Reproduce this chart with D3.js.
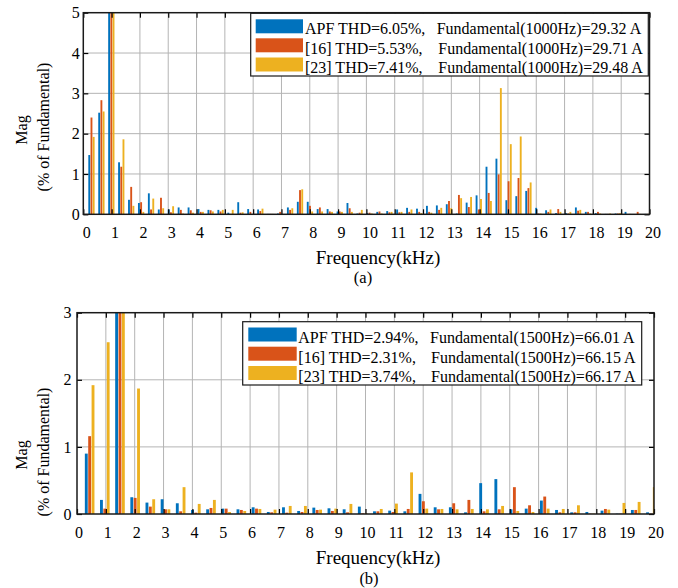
<!DOCTYPE html>
<html><head><meta charset="utf-8">
<script src="https://cdn.jsdelivr.net/npm/d3@7"></script>
<style>
body{margin:0;background:#fff}
svg{display:block}
text{font-family:"Liberation Serif","Times New Roman",serif;fill:#000}
</style>
</head><body>
<svg id="chart" width="678" height="588"></svg>
<script>
// ---------------- data ----------------
const seriesNames = ["APF", "[16]", "[23]"];
const seriesColors = ["#0072BD", "#D95319", "#EDB120"];
const xTickValues = d3.range(0, 21);
const yTicksA = [0, 1, 2, 3, 4, 5];
const yTicksB = [0, 1, 2, 3];

// panel (a): harmonic order in units of f0/3, f0 = 1000 Hz
const orderA = d3.range(1, 58);
const apfA = [1.47,2.52,100,1.29,0.36,0.28,0.52,0.12,0.12,0.17,0.17,0.13,0.11,0.11,0.04,0.30,0.13,0.12,0.01,0.02,
  0.17,0.31,0.31,0.13,0.13,0.07,0.28,0.02,0.03,0.06,0.08,0.12,0.16,0.14,0.21,0.22,0.25,0.02,0.29,0.47,
  1.18,1.38,0.35,0.45,0.58,0.16,0.10,0.03,0.03,0.17,0.06,0.03,0.01,0.02,0.06,0.00,0.01];
const ref16A = [2.40,2.83,100,1.18,0.68,0.30,0.12,0.41,0.05,0.11,0.10,0.06,0.10,0.07,0.01,0.04,0.06,0.08,0.01,0.06,
  0.11,0.60,0.21,0.17,0.07,0.07,0.15,0.04,0.04,0.07,0.05,0.05,0.06,0.06,0.06,0.11,0.33,0.48,0.18,0.12,
  0.53,0.99,0.82,0.90,0.65,0.02,0.06,0.13,0.02,0.09,0.06,0.06,0.01,0.02,0.00,0.06,0.01];
const ref23A = [1.92,2.55,100,1.86,0.21,0.06,0.39,0.15,0.20,0.02,0.04,0.06,0.07,0.11,0.11,0.05,0.01,0.14,0.01,0.01,
  0.15,0.62,0.07,0.07,0.06,0.06,0.06,0.11,0.02,0.02,0.06,0.06,0.12,0.03,0.04,0.16,0.15,0.40,0.43,0.38,
  0.33,3.13,1.74,1.93,0.79,0.02,0.12,0.06,0.06,0.11,0.02,0.02,0.02,0.03,0.01,0.01,0.04];
const legendA = ["APF THD=6.05%,", "[16] THD=5.53%,", "[23] THD=7.41%,"];
const fundA = ["Fundamental(1000Hz)=29.32 A", "Fundamental(1000Hz)=29.71 A", "Fundamental(1000Hz)=29.48 A"];

// panel (b): harmonic order in units of f0/3, f0 = 1500 Hz
const orderB = d3.range(1, 39);
const apfB = [0.90,0.21,100,0.25,0.17,0.22,0.16,0.06,0.07,0.08,0.07,0.10,0.03,0.10,0.045,0.095,0.085,0.07,0.11,0.04,
  0.05,0.04,0.30,0.10,0.10,0.025,0.46,0.52,0.07,0.08,0.20,0.06,0.025,0.03,0.05,0.005,0.06,0.025];
const ref16B = [1.16,0.08,100,0.24,0.11,0.07,0.04,0.02,0.09,0.08,0.06,0.08,0.025,0.02,0.03,0.06,0.045,0.025,0.01,0.04,
  0.03,0.075,0.19,0.07,0.16,0.21,0.04,0.07,0.40,0.13,0.26,0.025,0.025,0.005,0.075,0.005,0.06,0.005];
const ref23B = [1.92,2.56,100,1.87,0.22,0.07,0.40,0.15,0.21,0.03,0.045,0.075,0.065,0.12,0.12,0.065,0.08,0.15,0.01,0.075,
  0.155,0.62,0.08,0.075,0.07,0.075,0.07,0.12,0.045,0.03,0.08,0.075,0.13,0.005,0.065,0.165,0.18,0.40];
const legendB = ["APF THD=2.94%,", "[16] THD=2.31%,", "[23] THD=3.74%,"];
const fundB = ["Fundamental(1500Hz)=66.01 A", "Fundamental(1500Hz)=66.15 A", "Fundamental(1500Hz)=66.17 A"];

// ---------------- drawing ----------------
const svg = d3.select("#chart");
const FS = 16;

function styleAxis(sel) {
  sel.attr("font-size", FS).attr("font-family", null);
  sel.select(".domain").remove();
  sel.selectAll(".tick line").attr("stroke", "#000").attr("stroke-width", 1.2);
}

function panel(cfg) {
  const g = svg.append("g");
  const xs = d3.scaleLinear().domain([0, 20]).range([cfg.left, cfg.right]);
  const ys = d3.scaleLinear().domain([0, cfg.ymax]).range([cfg.bottom, cfg.top]);
  const clipId = "clip" + cfg.id;
  svg.append("clipPath").attr("id", clipId).append("rect")
    .attr("x", cfg.left).attr("y", cfg.top)
    .attr("width", cfg.right - cfg.left).attr("height", cfg.bottom - cfg.top);

  // grid
  const grid = g.append("g").attr("stroke", "#b4b4b4").attr("stroke-width", 1);
  grid.selectAll("line.vx").data(xTickValues.slice(1, -1)).join("line")
    .attr("x1", d => xs(d)).attr("x2", d => xs(d)).attr("y1", cfg.top).attr("y2", cfg.bottom);
  grid.selectAll("line.hy").data(cfg.yTicks.slice(1, -1)).join("line")
    .attr("y1", d => ys(d)).attr("y2", d => ys(d)).attr("x1", cfg.left).attr("x2", cfg.right);

  // bars
  const groupW = 3 / (3 + 1.5);
  const slot = cfg.step * groupW / 3;
  const bw = slot * 0.85;
  const bars = g.append("g").attr("clip-path", `url(#${clipId})`);
  cfg.series.forEach((vals, i) => {
    bars.append("g").attr("fill", seriesColors[i])
      .selectAll("rect").data(vals).join("rect")
      .attr("x", (d, j) => xs(cfg.freq[j] + (i - 1) * slot - bw / 2))
      .attr("width", (d, j) => xs(cfg.freq[j] + bw / 2) - xs(cfg.freq[j] - bw / 2))
      .attr("y", d => ys(Math.min(d, cfg.ymax * 1.2)))
      .attr("height", d => ys(0) - ys(Math.min(d, cfg.ymax * 1.2)));
  });

  // axes (inward ticks)
  const ax = g.append("g");
  const bottom = ax.append("g").attr("transform", `translate(0,${cfg.bottom})`)
    .call(d3.axisBottom(xs).tickValues(xTickValues).tickSize(-5).tickPadding(12.5).tickFormat(d3.format("d")))
    .call(styleAxis);
  bottom.selectAll("text").attr("dx", cfg.xdx);
  ax.append("g").attr("transform", `translate(0,${cfg.top})`)
    .call(d3.axisTop(xs).tickValues(xTickValues).tickSize(-5).tickFormat(""))
    .call(styleAxis);
  ax.append("g").attr("transform", `translate(${cfg.left},0)`)
    .call(d3.axisLeft(ys).tickValues(cfg.yTicks).tickSize(-5).tickPadding(cfg.ypad).tickFormat(d3.format("d")))
    .call(styleAxis);
  ax.append("g").attr("transform", `translate(${cfg.right},0)`)
    .call(d3.axisRight(ys).tickValues(cfg.yTicks).tickSize(-5).tickFormat(""))
    .call(styleAxis);
  g.append("rect").attr("x", cfg.left).attr("y", cfg.top)
    .attr("width", cfg.right - cfg.left).attr("height", cfg.bottom - cfg.top)
    .attr("fill", "none").attr("stroke", "#1a1a1a").attr("stroke-width", 1.5);

  // legend
  const L = cfg.legend;
  const lg = g.append("g");
  lg.append("rect").attr("x", L.x).attr("y", L.y).attr("width", L.w).attr("height", L.h)
    .attr("fill", "#fff").attr("stroke", "#1a1a1a").attr("stroke-width", 1.2);
  seriesNames.forEach((name, i) => {
    const cy = L.rowY[i];
    lg.append("rect").attr("x", L.sx).attr("y", cy - 7).attr("width", L.sw).attr("height", 14)
      .attr("fill", seriesColors[i]);
    const t = lg.append("text").attr("x", L.tx).attr("y", L.base[i]).attr("font-size", L.fs);
    t.append("tspan").text(L.labels[i] + " ");
    t.append("tspan").attr("x", L.fx[i]).text(L.fund[i]);
  });

  // axis titles
  g.append("text").attr("transform", `translate(${cfg.magX},${cfg.titleY}) rotate(-90)`)
    .attr("text-anchor", "middle").attr("font-size", FS).text("Mag");
  g.append("text").attr("transform", `translate(${cfg.magX + 21.5},${cfg.titleY - 3}) rotate(-90)`)
    .attr("text-anchor", "middle").attr("font-size", FS).text("(% of Fundamental)");
  g.append("text").attr("x", 378).attr("y", cfg.xlabBase).attr("text-anchor", "middle")
    .attr("font-size", 19).text("Frequency(kHz)");
  g.append("text").attr("x", cfg.capX).attr("y", cfg.capBase).attr("text-anchor", "middle")
    .attr("font-size", 16.5).text(cfg.caption);
}

panel({
  id: "A", left: 83.3, right: 649.5, top: 12.7, bottom: 214.3, ymax: 5, yTicks: yTicksA,
  freq: orderA.map(h => 0.99 + (h - 3) * 0.3508), step: 0.3508,
  series: [apfA, ref16A, ref23A], xdx: 3, ypad: 3.5,
  legend: { x: 250.7, y: 13.3, w: 397.6, h: 62.7, sx: 255.7, sw: 47.3, rowY: [26.3, 45.3, 64.5],
    tx: 305, base: [34.3, 53.5, 72.7], fx: [436.7, 438.3, 438.3], fs: 16, labels: legendA, fund: fundA },
  magX: 27, titleY: 130, xlabBase: 263.5, capX: 363, capBase: 283, caption: "(a)"
});

panel({
  id: "B", left: 77, right: 654, top: 312.7, bottom: 514, ymax: 3, yTicks: yTicksB,
  freq: orderB.map(h => 1.49 + (h - 3) * 0.5258), step: 0.5258,
  series: [apfB, ref16B, ref23B], xdx: 1.5, ypad: 5.5,
  legend: { x: 242.7, y: 321.7, w: 399, h: 63.3, sx: 248.3, sw: 48.4, rowY: [334.5, 353.7, 373],
    tx: 298.3, base: [343.3, 362.6, 381.9], fx: [430, 431, 431], fs: 16, labels: legendB, fund: fundB },
  magX: 27, titleY: 455, xlabBase: 564, capX: 369, capBase: 584, caption: "(b)"
});
</script>
</body></html>
